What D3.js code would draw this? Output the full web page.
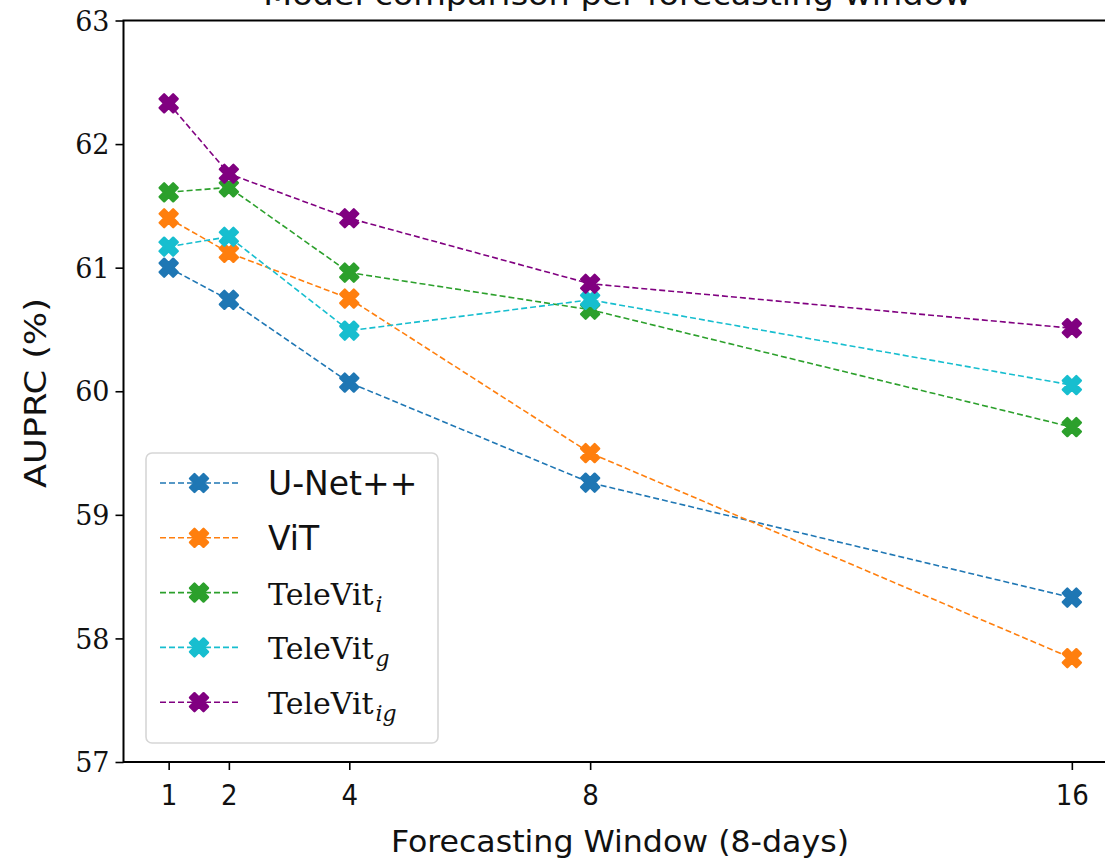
<!DOCTYPE html>
<html><head><meta charset="utf-8">
<script src="https://cdn.jsdelivr.net/npm/d3@7"></script>
<style>body{margin:0;background:#fff}svg{display:block}</style>
</head><body>
<script>
const windows = [1, 2, 4, 8, 16];
const xTickLabels = ["1", "2", "4", "8", "16"];
const yTicks = [57, 58, 59, 60, 61, 62, 63];
const unetpp = [61.00, 60.74, 60.07, 59.26, 58.33];
const vit = [61.40, 61.12, 60.75, 59.50, 57.84];
const televit_i = [61.61, 61.65, 60.96, 60.66, 59.71];
const televit_g = [61.17, 61.25, 60.49, 60.74, 60.05];
const televit_ig = [62.33, 61.76, 61.40, 60.87, 60.51];
const seriesNames = ["U-Net++", "ViT", "TeleVit_i", "TeleVit_g", "TeleVit_ig"];
const colors = ["#1f77b4", "#ff7f0e", "#2ca02c", "#17becf", "#800080"];

const series = [
  {name: seriesNames[0], vals: unetpp, color: colors[0], base: "U-Net++", sub: null},
  {name: seriesNames[1], vals: vit, color: colors[1], base: "ViT", sub: null},
  {name: seriesNames[2], vals: televit_i, color: colors[2], base: "TeleVit", sub: "i"},
  {name: seriesNames[3], vals: televit_g, color: colors[3], base: "TeleVit", sub: "g"},
  {name: seriesNames[4], vals: televit_ig, color: colors[4], base: "TeleVit", sub: "ig"}
];

const W = 1105, H = 864;
const svg = d3.select("body").append("svg").attr("width", W).attr("height", H);
const L = 123.5, R = 1117, T = 20.5, B = 762;
const x = d3.scaleLinear().domain([0.25, 16.75]).range([L, R]);
const y = d3.scaleLinear().domain([57, 63]).range([B, T]);

// X marker path (matplotlib filled X)
const mk = [[-1,-2],[0,-1],[1,-2],[2,-1],[1,0],[2,1],[1,2],[0,1],[-1,2],[-2,1],[-1,0],[-2,-1]];
const r = 4.5;
const markerPath = "M" + mk.map(p => (p[0]*r) + "," + (p[1]*r)).join("L") + "Z";

const line = d3.line().x((d, i) => x(windows[i])).y(d => y(d));

const plot = svg.append("g");
series.forEach(s => {
  plot.append("path").datum(s.vals).attr("d", line)
    .attr("fill", "none").attr("stroke", s.color).attr("stroke-width", 1.6)
    .attr("stroke-dasharray", "6,3");
  plot.selectAll(null).data(s.vals).enter().append("path")
    .attr("d", markerPath)
    .attr("transform", (d, i) => `translate(${x(windows[i])},${y(d)})`)
    .attr("fill", s.color).attr("stroke", s.color).attr("stroke-width", 2.4)
    .attr("stroke-linejoin", "round");
});

// axes
const xAxis = d3.axisBottom(x).tickValues(windows).tickFormat((d, i) => xTickLabels[i]).tickSize(8).tickSizeOuter(0);
const gx = svg.append("g").attr("transform", `translate(0,${B})`).call(xAxis);
gx.select(".domain").remove();
gx.selectAll(".tick line").attr("stroke", "#000").attr("stroke-width", 1.6);
gx.selectAll(".tick text").attr("font-family", "'DejaVu Sans Condensed', 'DejaVu Sans', sans-serif")
  .attr("font-size", 29).attr("fill", "#111").attr("y", 22).attr("dy", "0.71em");

const yAxis = d3.axisLeft(y).tickValues(yTicks).tickFormat(d3.format("d")).tickSize(8).tickSizeOuter(0);
const gy = svg.append("g").attr("transform", `translate(${L},0)`).call(yAxis);
gy.select(".domain").remove();
gy.selectAll(".tick line").attr("stroke", "#000").attr("stroke-width", 1.6);
gy.selectAll(".tick text").attr("font-family", "'DejaVu Serif', serif")
  .attr("font-size", 27).attr("fill", "#111").attr("x", -14).attr("dy", "0.36em");

// spines
svg.append("rect").attr("x", L).attr("y", T).attr("width", R - L).attr("height", B - T)
  .attr("fill", "none").attr("stroke", "#000").attr("stroke-width", 2);

// title (partly above the top edge, as in the reference)
svg.append("text").attr("x", (L + R) / 2 - 3).attr("y", 5).attr("text-anchor", "middle")
  .attr("font-family", "'DejaVu Sans Condensed', 'DejaVu Sans', sans-serif").attr("font-size", 31)
  .attr("textLength", 708).attr("lengthAdjust", "spacingAndGlyphs").attr("fill", "#111")
  .text("Model comparison per forecasting window");

// axis labels
svg.append("text").attr("x", 620).attr("y", 852).attr("text-anchor", "middle")
  .attr("font-family", "'DejaVu Sans Condensed', 'DejaVu Sans', sans-serif").attr("font-size", 31)
  .attr("textLength", 458).attr("lengthAdjust", "spacingAndGlyphs").attr("fill", "#111")
  .text("Forecasting Window (8-days)");
svg.append("text").attr("transform", "translate(46,393) rotate(-90)").attr("text-anchor", "middle")
  .attr("font-family", "'DejaVu Sans Condensed', 'DejaVu Sans', sans-serif").attr("font-size", 31)
  .attr("textLength", 190).attr("lengthAdjust", "spacingAndGlyphs").attr("fill", "#111")
  .text("AUPRC (%)");

// legend
const lg = svg.append("g");
lg.append("rect").attr("x", 146).attr("y", 453).attr("width", 292).attr("height", 290)
  .attr("rx", 6).attr("fill", "#fff").attr("fill-opacity", 0.85).attr("stroke", "#d6d6d6").attr("stroke-width", 1.6);
series.forEach((s, i) => {
  const yy = 483 + i * 54.8;
  lg.append("line").attr("x1", 160).attr("x2", 240).attr("y1", yy).attr("y2", yy)
    .attr("stroke", s.color).attr("stroke-width", 1.6).attr("stroke-dasharray", "6,3");
  lg.append("path").attr("d", markerPath).attr("transform", `translate(199,${yy})`)
    .attr("fill", s.color).attr("stroke", s.color).attr("stroke-width", 2.4).attr("stroke-linejoin", "round");
  const t = lg.append("text").attr("x", 268).attr("y", yy + 12).attr("fill", "#111");
  if (s.sub === null) {
    t.attr("font-family", "'DejaVu Sans', sans-serif").attr("font-size", 33).text(s.base);
  } else {
    t.attr("font-family", "'DejaVu Serif', serif").attr("font-size", 30);
    t.append("tspan").text(s.base);
    t.append("tspan").attr("font-style", "italic").attr("font-size", 22).attr("dy", 7).attr("dx", 2).text(s.sub);
  }
});
</script>
</body></html>
